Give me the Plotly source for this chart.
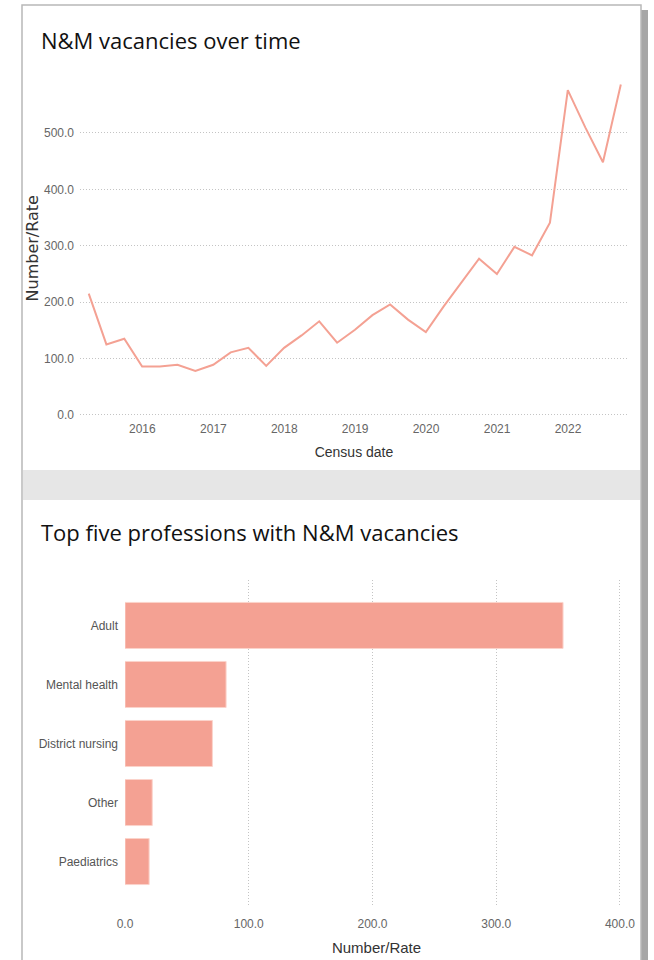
import plotly.graph_objects as go

W, H = 654, 960
OFF = 0

census_dates = [
    "2015-03-31", "2015-06-30", "2015-09-30", "2015-12-31",
    "2016-03-31", "2016-06-30", "2016-09-30", "2016-12-31",
    "2017-03-31", "2017-06-30", "2017-09-30", "2017-12-31",
    "2018-03-31", "2018-06-30", "2018-09-30", "2018-12-31",
    "2019-03-31", "2019-06-30", "2019-09-30", "2019-12-31",
    "2020-03-31", "2020-06-30", "2020-09-30", "2020-12-31",
    "2021-03-31", "2021-06-30", "2021-09-30", "2021-12-31",
    "2022-03-31", "2022-06-30", "2022-09-30",
]
vacancies = [
    215, 125, 135, 86, 86, 89, 78, 89,
    111, 119, 87, 119, 141, 166, 128, 151,
    177, 196, 169, 147, 192, 235, 277, 250,
    298, 283, 341, 576, 510, 448, 586,
]

professions = ["Adult", "Mental health", "District nursing", "Other", "Paediatrics"]
profession_vacancies = [354, 81.7, 70.6, 22, 19.5]

y_ticks = [0, 100, 200, 300, 400, 500]
y_tick_labels = ["0.0", "100.0", "200.0", "300.0", "400.0", "500.0"]
x_ticks_bar = [0, 100, 200, 300, 400]
x_tick_labels_bar = ["0.0", "100.0", "200.0", "300.0", "400.0"]

SALMON = "#f4a193"
NARROW = "Liberation Sans, Arial, sans-serif"
TICK_FONT = dict(family=NARROW, size=12, color="#666666")
TITLE_FONT = dict(family="Open Sans, Noto Sans, sans-serif", size=22, color="#111111")
DOTS = "1px,2px"


def fx(px):
    return (px - OFF) / W


def fy(py):
    return 1 - (py - OFF) / H


fig = go.Figure()

fig.add_trace(go.Scatter(
    x=census_dates, y=vacancies, mode="lines",
    line=dict(color=SALMON, width=2),
    xaxis="x", yaxis="y", showlegend=False,
))

fig.add_trace(go.Bar(
    x=profession_vacancies, y=professions, orientation="h",
    marker=dict(color=SALMON, line=dict(color="#fbd3cb", width=1)),
    xaxis="x2", yaxis="y2", showlegend=False, width=0.78,
))

shapes = [
    # card shadow
    dict(type="rect", xref="paper", yref="paper", x0=fx(641), x1=fx(648), y0=fy(975), y1=fy(10),
         fillcolor="#a6a6a6", line=dict(width=0), layer="below"),
    # card
    dict(type="rect", xref="paper", yref="paper", x0=fx(22), x1=fx(641), y0=fy(975), y1=fy(5),
         fillcolor="white", line=dict(color="#b8b8b8", width=1.5), layer="below"),
    # separator band
    dict(type="rect", xref="paper", yref="paper", x0=fx(23), x1=fx(640), y0=fy(500), y1=fy(470),
         fillcolor="#e6e6e6", line=dict(width=0), layer="below"),
]

annotations = [
    dict(text="N&M vacancies over time", xref="paper", yref="paper", x=fx(39), y=fy(40),
         xanchor="left", yanchor="middle", showarrow=False, font=TITLE_FONT),
    dict(text="Top five professions with N&M vacancies", xref="paper", yref="paper",
         x=fx(39), y=fy(532), xanchor="left", yanchor="middle", showarrow=False, font=TITLE_FONT),
]

fig.update_layout(
    width=W, height=H,
    margin=dict(l=0, r=0, t=0, b=0, autoexpand=False),
    paper_bgcolor="white", plot_bgcolor="white",
    shapes=shapes, annotations=annotations,
    bargap=0.22,
    xaxis=dict(
        domain=[fx(80), fx(628)], anchor="y", type="date",
        range=["2015-02-14", "2022-11-06"],
        tickvals=["2016-01-01", "2017-01-01", "2018-01-01", "2019-01-01",
                  "2020-01-01", "2021-01-01", "2022-01-01"],
        ticktext=["2016", "2017", "2018", "2019", "2020", "2021", "2022"],
        showgrid=False, zeroline=False, showline=False, ticks="",
        tickfont=TICK_FONT,
        title=dict(text="Census date", standoff=12,
                   font=dict(family=NARROW, size=14, color="#333333")),
    ),
    yaxis=dict(
        domain=[fy(420), fy(76.6)], anchor="x",
        range=[-9, 600],
        tickvals=y_ticks, ticktext=y_tick_labels,
        showgrid=True, gridcolor="#c4c4c4", griddash=DOTS, gridwidth=1,
        zeroline=False, showline=False, ticks="",
        tickfont=TICK_FONT, ticklabelstandoff=5,
        title=dict(text="Number/Rate", standoff=1,
                   font=dict(family="DejaVu Sans, sans-serif", size=16, color="#333333")),
    ),
    xaxis2=dict(
        domain=[fx(125), fx(628)], anchor="y2",
        range=[0, 406.5],
        tickvals=x_ticks_bar, ticktext=x_tick_labels_bar,
        showgrid=True, gridcolor="#c4c4c4", griddash=DOTS, gridwidth=1,
        zeroline=False, showline=False, ticks="",
        tickfont=TICK_FONT, ticklabelstandoff=8,
        title=dict(text="Number/Rate", standoff=12,
                   font=dict(family=NARROW, size=15, color="#333333")),
    ),
    yaxis2=dict(
        domain=[fy(907), fy(580)], anchor="x2",
        range=[4.77, -0.77],
        categoryorder="array", categoryarray=professions,
        showgrid=False, zeroline=False, showline=False, ticks="",
        tickfont=dict(family=NARROW, size=12, color="#555555"),
        ticklabelstandoff=6,
    ),
)

fig.write_html("out.html")
